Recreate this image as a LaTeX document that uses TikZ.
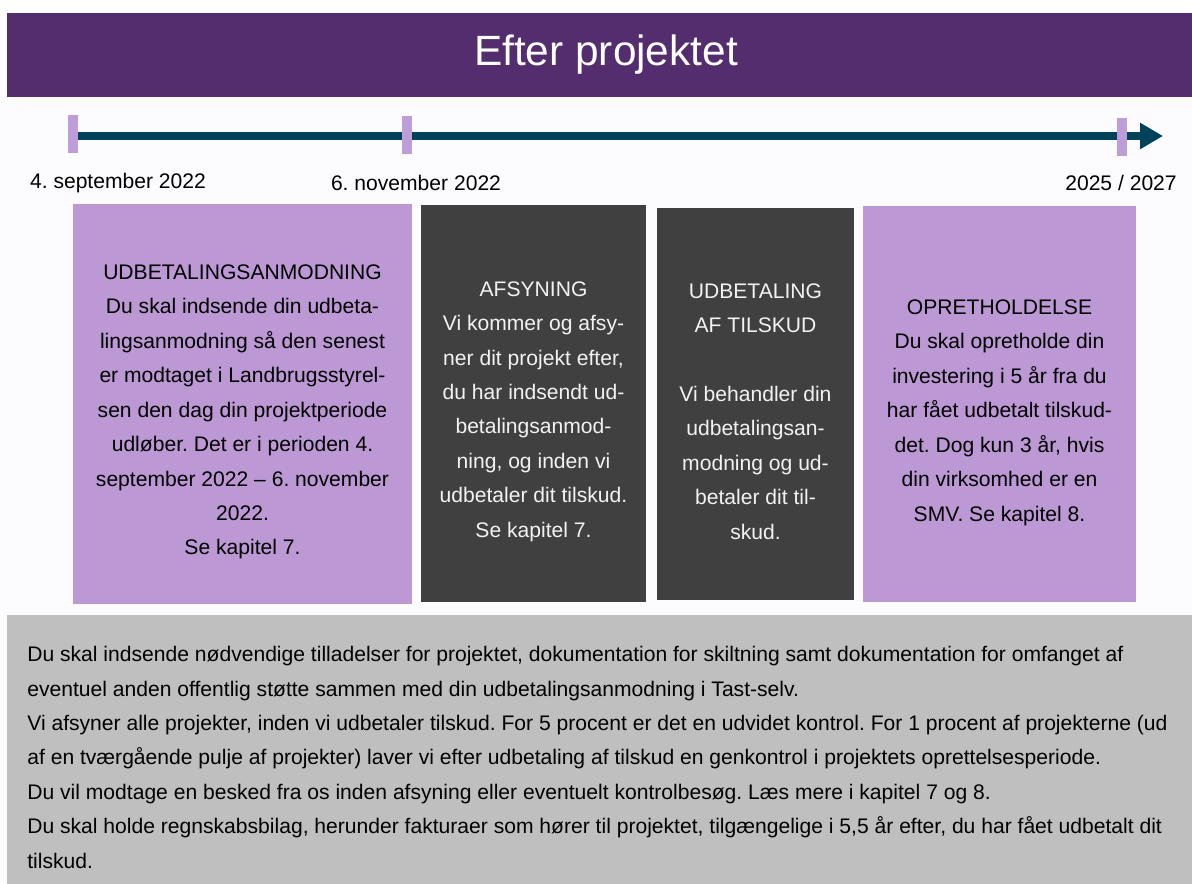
\documentclass[tikz,border=0pt]{standalone}
\usepackage{fontspec}
\setmainfont{Liberation Sans}
\usepackage{xcolor}
\definecolor{efter_title}{RGB}{83, 45, 110}
\definecolor{efter_lilla}{RGB}{188, 152, 212}
\definecolor{efter_tick}{RGB}{190, 158, 216}
\definecolor{efter_dark}{RGB}{64, 64, 64}
\definecolor{efter_grey}{RGB}{191, 191, 191}
\definecolor{efter_teal}{RGB}{0, 66, 90}
\definecolor{efter_tealedge}{RGB}{110, 160, 172}
\definecolor{efter_bg}{RGB}{252, 252, 254}
\usetikzlibrary{arrows.meta, positioning}
\frenchspacing

\begin{document}
\begin{tikzpicture}[font=\fontsize{12}{19.6}\selectfont,
    boxtext/.style={inner sep=0pt, align=center, font=\fontsize{12}{19.6}\selectfont},
    lillabox/.style={inner sep=0pt, fill=efter_lilla},
    darkbox/.style={inner sep=0pt, fill=efter_dark},
    tickmark/.style={fill=efter_tick, inner sep=0pt, minimum width=0.2cm, minimum height=0.76cm},
    datelabel/.style={inner sep=0pt, font=\fontsize{12}{14}\selectfont}]
  \useasboundingbox (0,0) rectangle (23.84,-17.68);
  % baggrund og titel
  \fill[white] (0,0) rectangle (23.84,-17.68);
  \fill[efter_bg] (0,-1.94) rectangle (23.84,-17.68);
  \fill[efter_title] (0.14,-0.26) rectangle (23.84,-1.94);
  \node[text=white, font=\fontsize{24.1}{28}\selectfont] (titel) at (12.12,-1.10) {Efter projektet};

  % tidslinje
  \coordinate (tlstart) at (1.46,-2.72);
  \coordinate (tlend) at (23.26,-2.72);
  \draw[efter_tealedge, line width=4.8pt] (tlstart) -- ([xshift=-0.4cm]tlend);
  \draw[efter_teal, line width=4.2pt, -{Triangle[length=0.46cm, width=0.5cm]}] (tlstart) -- (tlend);
  \node[tickmark] (tick1) at (1.46,-2.68) {};
  \node[tickmark] (tick2) at (8.14,-2.70) {};
  \node[tickmark] (tick3) at (22.44,-2.74) {};
  \node[datelabel] (dato1) at (2.36,-3.66) {4. september 2022};
  \node[datelabel] (dato2) at (8.32,-3.66) {6. november 2022};
  \node[datelabel] (dato3) at (22.42,-3.66) {2025 / 2027};

  % faser
  \node[lillabox, minimum width=6.78cm, minimum height=8.0cm] (anmodning) at (4.85,-8.08) {};
  \node[boxtext, text=black] (anmodningtekst) at ([yshift=-0.16cm]anmodning.center)
    {UDBETALINGSANMODNING\\Du skal indsende din udbeta-\\lingsanmodning så den senest\\er modtaget i Landbrugsstyrel-\\sen den dag din projektperiode\\udløber. Det er i perioden 4.\\september 2022 – 6. november\\2022.\\Se kapitel 7.};
  \node[darkbox, minimum width=4.5cm, minimum height=7.94cm] (afsyning) at (10.67,-8.07) {};
  \node[boxtext, text=white!95!black] (afsyningtekst) at ([yshift=-0.16cm]afsyning.center)
    {AFSYNING\\Vi kommer og afsy-\\ner dit projekt efter,\\du har indsendt ud-\\betalingsanmod-\\ning, og inden vi\\udbetaler dit tilskud.\\Se kapitel 7.};
  \node[darkbox, minimum width=3.94cm, minimum height=7.84cm] (udbetaling) at (15.11,-8.08) {};
  \node[boxtext, text=white!95!black] (udbetalingtekst) at ([yshift=-0.15cm]udbetaling.center)
    {UDBETALING\\AF TILSKUD\\\mbox{}\\Vi behandler din\\udbetalingsan-\\modning og ud-\\betaler dit til-\\skud.};
  \node[lillabox, minimum width=5.46cm, minimum height=7.92cm] (opretholdelse) at (19.99,-8.08) {};
  \node[boxtext, text=black] (opretholdelsetekst) at ([yshift=-0.17cm]opretholdelse.center)
    {OPRETHOLDELSE\\Du skal opretholde din\\investering i 5 år fra du\\har fået udbetalt tilskud-\\det. Dog kun 3 år, hvis\\din virksomhed er en\\SMV. Se kapitel 8.};

  % noter
  \fill[efter_grey] (0.14,-12.30) rectangle (23.84,-17.68);
  \node[anchor=north west, inner sep=0pt, align=left, font=\fontsize{12}{19.6}\selectfont] (noter) at (0.54,-12.92)
    {Du skal indsende nødvendige tilladelser for projektet, dokumentation for skiltning samt dokumentation for omfanget af\\
     eventuel anden offentlig støtte sammen med din udbetalingsanmodning i Tast-selv.\\
     Vi afsyner alle projekter, inden vi udbetaler tilskud. For 5 procent er det en udvidet kontrol. For 1 procent af projekterne (ud\\
     af en tværgående pulje af projekter) laver vi efter udbetaling af tilskud en genkontrol i projektets oprettelsesperiode.\\
     Du vil modtage en besked fra os inden afsyning eller eventuelt kontrolbesøg. Læs mere i kapitel 7 og 8.\\
     Du skal holde regnskabsbilag, herunder fakturaer som hører til projektet, tilgængelige i 5,5 år efter, du har fået udbetalt dit\\
     tilskud.};
\end{tikzpicture}
\end{document}
